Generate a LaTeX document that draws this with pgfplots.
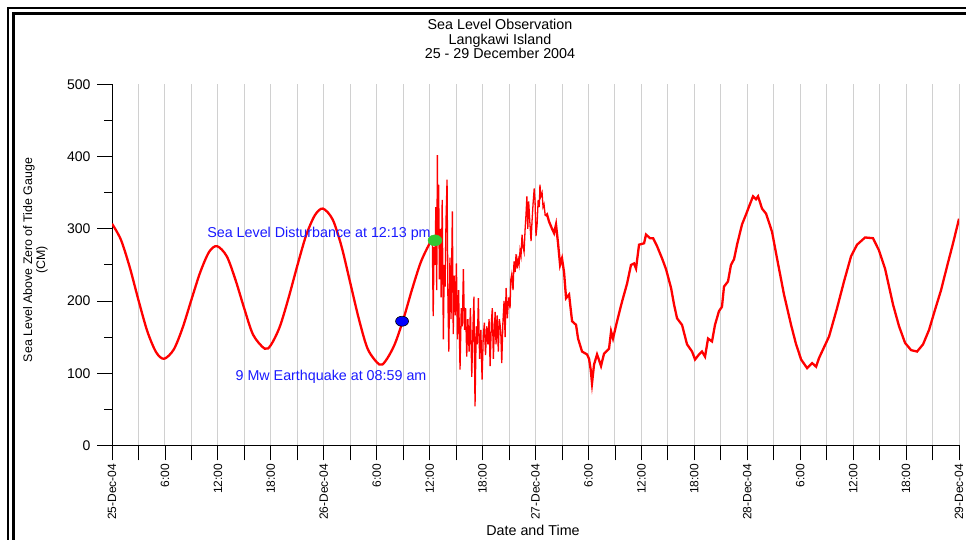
\documentclass[border=0pt]{standalone}
\usepackage{pgfplots}
\pgfplotsset{compat=1.18}
\usepackage{fontspec}
\setmainfont{Liberation Sans}
\definecolor{tidered}{RGB}{255,0,0}
\definecolor{annblue}{RGB}{25,25,255}
\definecolor{gridgray}{RGB}{208,208,208}
\definecolor{eqgreen}{RGB}{50,200,50}
\begin{document}
\begin{tikzpicture}[x=1pt,y=1pt]
\useasboundingbox (0,0) rectangle (966,540);
\clip (0,0) rectangle (966,540);
\draw[line width=2pt] (8.3,-20) -- (8.3,532.3) -- (1000,532.3);
\draw[line width=3.3pt] (13.7,-20) -- (13.7,526.3) -- (1000,526.3);
\begin{axis}[
  at={(127,131)}, anchor=origin,
  scale only axis, width=847pt, height=361pt,
  xmin=0, xmax=96, ymin=0, ymax=500,
  axis x line*=bottom, axis y line*=left,
  axis line style={black, line width=0.9pt, -},
  xtick={0,3,...,96},
  xticklabels={25-Dec-04,,6:00,,12:00,,18:00,,26-Dec-04,,6:00,,12:00,,18:00,,27-Dec-04,,6:00,,12:00,,18:00,,28-Dec-04,,6:00,,12:00,,18:00,,29-Dec-04},
  x tick label style={rotate=90, anchor=east, font=\fontsize{12}{14}\selectfont},
  ytick={0,100,...,500}, minor ytick={50,150,...,450},
  y tick label style={font=\fontsize{14}{16}\selectfont, xshift=-3pt},
  /pgf/number format/assume math mode=true,
  tick align=outside, major tick length=15pt, minor tick length=8pt,
  tick style={black, line width=0.9pt},
  xmajorgrids, grid style={gridgray, line width=1pt},
]
\addplot[tidered, line width=2.3pt, smooth] coordinates {
(0,307)(1,285)(2,247)(3,201)(4,158)(5,129)(5.9,120)(7,133)(8,163)(9,202)(10,240)(11,268)(11.9,276)
(13,262)(14,229)(15,189)(16,153)(17.3,134)(18,139)(19,164)(20,204)(21,249)(22,291)(23,319)(23.9,328)
(25,313)(26,276)(27,225)(28,174)(29,133)(30.3,112)(31,117)(32,139)(33,174)(34,216)(35,254)(36,280)(36.3,286)
};
\addplot[tidered, line width=1.3pt] coordinates {
(36.3,286)(36.4,179)(36.5,275)(36.6,250)(36.7,330)(36.8,215)(36.87,402)(36.95,290)(37.02,361)(37.1,230)
(37.2,300)(37.3,205)(37.42,340)(37.55,147)(37.65,250)(37.75,220)(37.85,310)(37.97,368)(38.07,200)(38.17,130)
(38.3,260)(38.42,175)(38.57,324)(38.67,154)(38.78,235)(38.9,180)(39.03,252)(39.15,147)(39.28,215)(39.44,105)
(39.58,190)(39.7,165)(39.82,244)(39.95,160)(40.07,190)(40.2,123)(40.33,175)(40.47,130)(40.62,190)(40.77,95)
(40.9,160)(41.02,206)(41.14,54)(41.28,165)(41.4,140)(41.52,204)(41.66,120)(41.8,160)(41.94,91)(42.07,150)
(42.2,170)(42.33,125)(42.47,165)(42.6,140)(42.73,175)(42.85,110)(43.0,172)(43.1,190)(43.22,120)(43.3,150)
(43.42,185)(43.52,140)(43.65,180)(43.78,130)(43.9,175)(44.05,160)(44.17,114)(44.3,170)(44.43,200)(44.55,150)
(44.66,218)(44.8,176)(44.95,205)(45.11,190)(45.2,230)(45.3,237)(45.45,215)(45.56,255)(45.68,240)(45.79,265)
(45.9,245)(46.02,258)(46.13,250)(46.24,270)(46.35,262)(46.47,292)(46.58,275)(46.7,268)(46.82,300)(46.92,320)
(47.02,345)(47.12,300)(47.22,338)(47.35,310)(47.49,283)(47.6,310)(47.72,335)(47.85,356)(47.94,340)(48.05,290)
(48.17,305)(48.3,340)(48.42,330)(48.5,361)(48.6,345)(48.74,350)(48.85,330)(48.96,334)(49.1,318)
};
\addplot[tidered, line width=2.3pt] coordinates {
(49.1,318)(49.3,320)(49.53,310)(49.7,305)(49.87,300)(50.1,294)(50.32,306)(50.55,280)(50.78,250)(51.0,259)
(51.23,240)(51.46,204)(51.8,209)(52.14,172)(52.59,167)(52.82,148)(53.27,130)(53.84,126)(54.06,120)(54.25,105)
(54.4,86)(54.63,112)(54.97,126)(55.2,118)(55.42,110)(55.76,127)(56.33,134)(56.56,158)(56.78,148)(57.24,172)
(57.8,199)(58.37,224)(58.82,250)(59.16,252)(59.39,245)(59.73,278)(60.3,280)(60.52,292)(60.98,287)(61.32,287)
(61.77,276)(62.34,259)(62.79,244)(63.36,218)(63.7,195)(64.04,176)(64.6,167)(65.17,140)(65.74,130)(66.08,119)
(66.53,126)(66.87,130)(67.21,123)(67.55,148)(68.0,144)(68.34,167)(68.79,186)(69.13,192)(69.36,220)(69.81,227)
(70.15,250)(70.5,258)(70.84,278)(71.4,306)(71.86,320)(72.2,331)(72.65,345)(72.99,341)(73.22,345)(73.67,328)
(74.13,321)(74.8,296)(75.37,259)(76.16,209)(76.96,167)(77.53,140)(78.1,119)(78.78,107)(79.35,114)(79.8,109)
(80.13,121)(81.27,151)(82.17,190)(82.96,227)(83.76,262)(84.44,278)(85.35,288)(86.25,287)(86.93,270)(87.61,245)
(88.52,195)(89.2,165)(89.88,142)(90.56,132)(91.24,130)(91.92,140)(92.6,160)(93.28,188)(93.96,215)(94.64,248)
(95.32,280)(96,314)
};
\addplot[only marks, mark=*, mark size=5pt, mark options={xscale=1.3, fill=blue, draw=black, line width=0.6pt}] coordinates {(32.87,172)};
\addplot[only marks, mark=*, mark size=5.5pt, mark options={xscale=1.27, fill=eqgreen, draw=eqgreen}] coordinates {(36.6,284)};
\end{axis}
\node[align=center, font=\fontsize{14.3}{14.5}\selectfont] at (500,501) {Sea Level Observation\\Langkawi Island\\25 - 29 December 2004};
\node[font=\fontsize{14.3}{16}\selectfont] at (533,10) {Date and Time};
\node[rotate=90, align=center, font=\fontsize{12.4}{13}\selectfont] at (35.5,280) {Sea Level Above Zero of Tide Gauge\\(CM)};
\node[text=annblue, font=\fontsize{14.3}{16}\selectfont] at (319,306) {Sea Level Disturbance at 12:13 pm};
\node[text=annblue, font=\fontsize{14.3}{16}\selectfont] at (331,163) {9 Mw Earthquake at 08:59 am};
\end{tikzpicture}
\end{document}
